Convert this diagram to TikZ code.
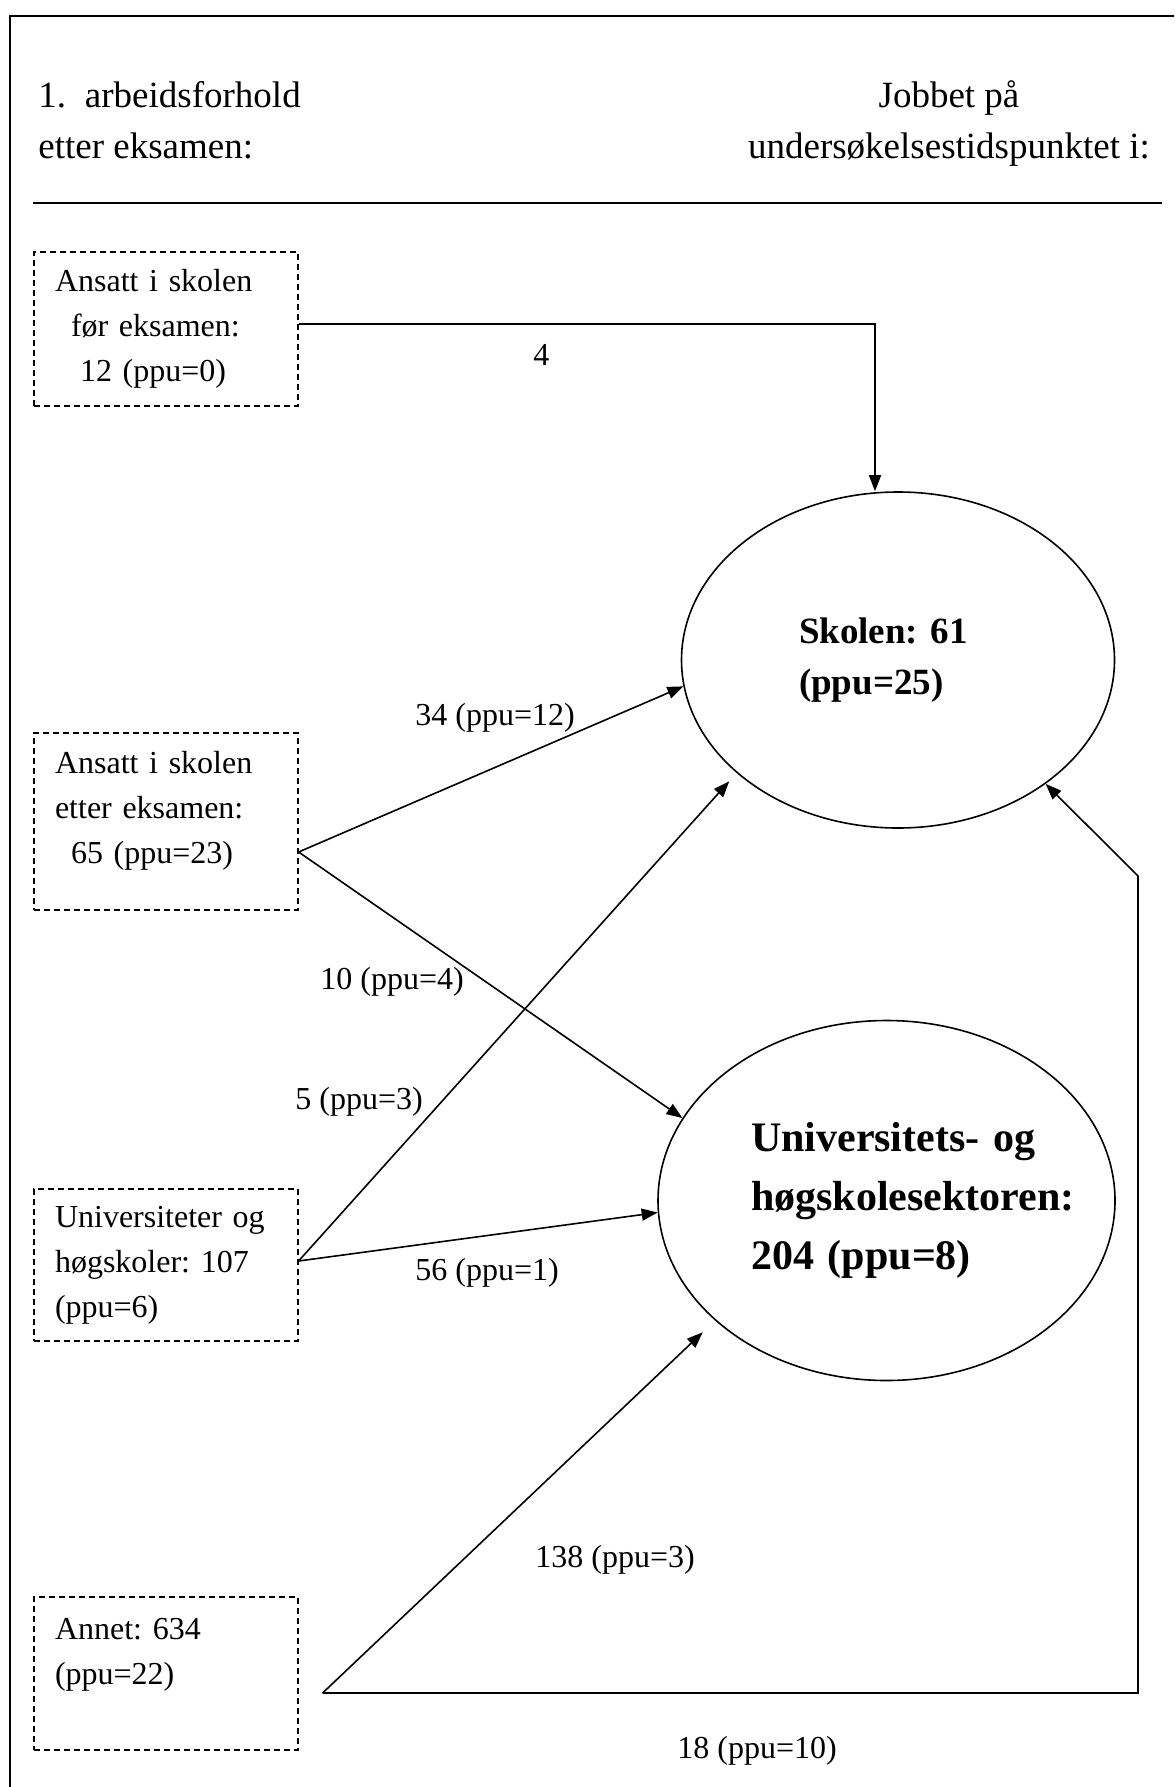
\documentclass[tikz,border=0pt]{standalone}
\usepackage{fontspec}
\setmainfont{Liberation Serif}
\usetikzlibrary{arrows.meta,shapes.geometric,calc}
\frenchspacing

\begin{document}
\begin{tikzpicture}[x=0.5pt,y=-0.5pt,
    overskrift/.style={inner sep=0pt,font=\fontsize{18.5pt}{25.5pt}\selectfont},
    boks/.style={draw,dashed,dash pattern=on 3pt off 2pt,line width=0.6pt,
        minimum width=132pt,inner sep=0pt,text width=111pt,align=left,
        font=\fontsize{16pt}{22.5pt}\selectfont},
    sirkel/.style={draw,ellipse,line width=0.8pt,inner sep=0pt,align=left},
    tall/.style={anchor=base west,inner sep=0pt,font=\fontsize{16pt}{22.5pt}\selectfont},
    pil/.style={-{Triangle[length=8pt,width=6pt]},line width=0.8pt}]
            \useasboundingbox (0,0) rectangle (1174,1787);
            \clip (0,0) rectangle (1174,1787);
            \draw[line width=0.8pt] (10,16) rectangle (1200,1820);

            \node (venstre) [overskrift,anchor=north west,align=left] at (38,81)
                {1.\hspace{0.51em}arbeidsforhold\\etter eksamen:};
            \node (hoyre) [overskrift,anchor=north,align=center] at (949,80)
                {Jobbet på\\undersøkelsestidspunktet i:};
            \draw[line width=0.8pt] (33,203) -- (1162,203);

            \node (skolefor) [boks,minimum height=77pt] at (166,329)
                {Ansatt i skolen\\\hspace*{8pt}før eksamen:\\\hspace*{12.5pt}12 (ppu=0)};
            \node (skoleetter) [boks,minimum height=88.5pt] at (166,821.5)
                {Ansatt i skolen\\etter eksamen:\\\hspace*{8pt}65 (ppu=23)\\[-8pt]\mbox{}};
            \node (uh) [boks,minimum height=76pt] at (166,1265)
                {Universiteter og\\høgskoler: 107\\(ppu=6)};
            \node (annet) [boks,minimum height=76.5pt] at (166,1673.5)
                {Annet: 634\\(ppu=22)\\\mbox{}};

            \node (skolen) [sirkel,minimum width=216.5pt,minimum height=168pt,text width=99pt,
                font=\fontsize{18.5pt}{25.5pt}\selectfont\bfseries] at (898,660)
                {Skolen: 61\\(ppu=25)};
            \node (uhsektor) [sirkel,minimum width=228.5pt,minimum height=180pt,text width=135.5pt,
                font=\fontsize{21pt}{29.5pt}\selectfont\bfseries] at (886.5,1200.5)
                {\mbox{Universitets- og}\\\mbox{høgskolesektoren:}\\204 (ppu=8)};

            \coordinate (ut1) at ($(skolefor.east)+(0,-5)$);
            \coordinate (ut2) at ($(skoleetter.east)+(0,30.5)$);
            \coordinate (ut3) at ($(uh.east)+(0,-4)$);
            \coordinate (ut4) at ($(annet.east)+(24,19.5)$);
            \coordinate (knekk) at (1138,876);

            \draw[pil] (ut1) -| ($(skolen.north)+(-23,0)$);
            \path[pil]
            (ut2) edge (skolen.187)
            (ut2) edge (uhsektor.158)
            (ut3) edge[shorten >=5.5pt] (skolen.215)
            (ut3) edge (uhsektor.183)
            (ut4) edge[shorten >=8.5pt] (uhsektor.215.5);
            \draw[pil] (ut4) -| (knekk) -- (skolen.320);

            \node (l4) [tall] at (533,365) {4};
            \node (l34) [tall] at (415,725) {34 (ppu=12)};
            \node (l10) [tall] at (320,989) {10 (ppu=4)};
            \node (l5) [tall] at (295,1109) {5 (ppu=3)};
            \node (l56) [tall] at (415,1280) {56 (ppu=1)};
            \node (l138) [tall] at (535,1567) {138 (ppu=3)};
            \node (l18) [tall] at (677,1758) {18 (ppu=10)};
        \end{tikzpicture}
\end{document}
